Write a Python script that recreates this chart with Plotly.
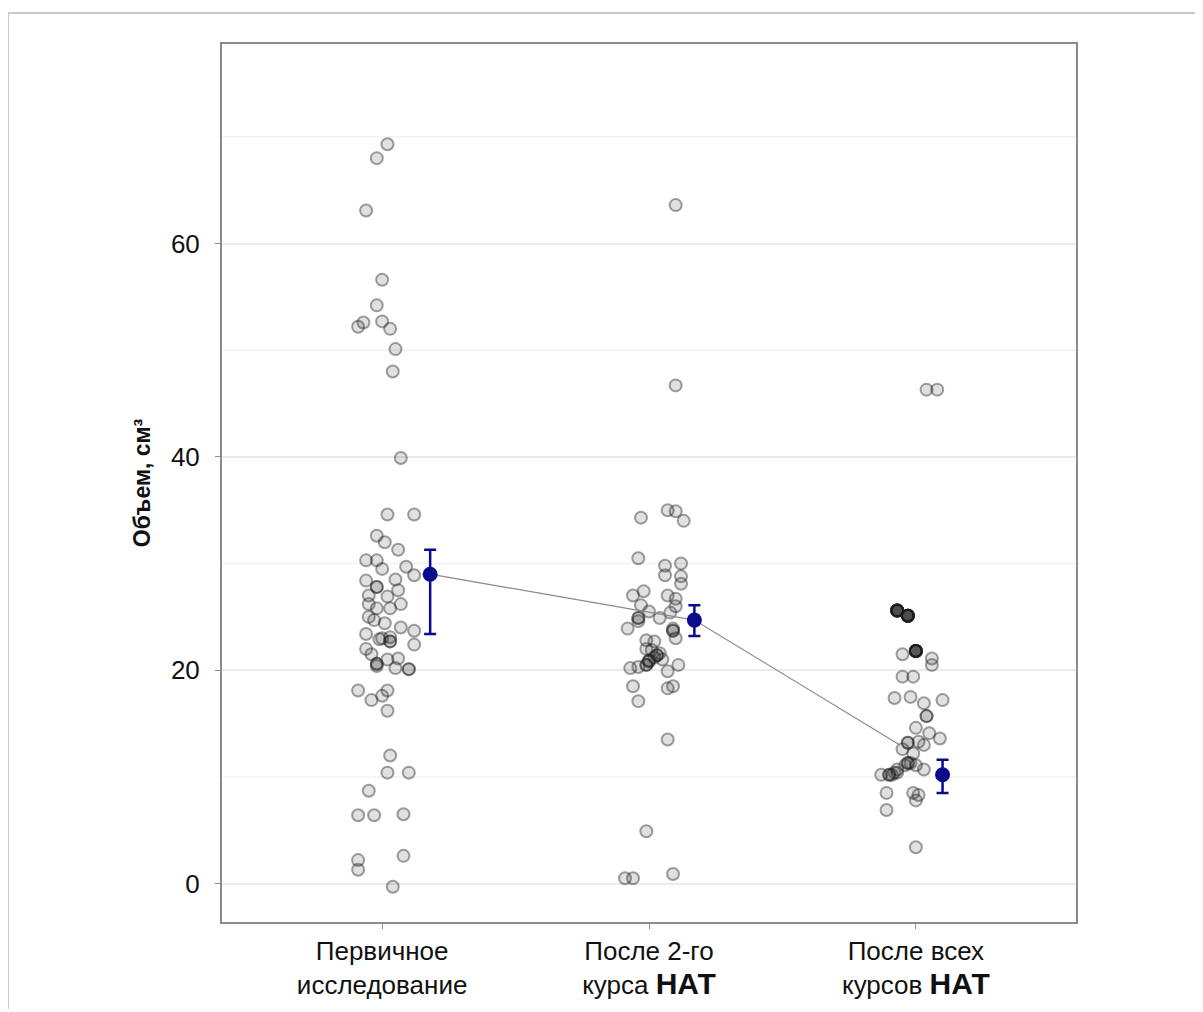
import plotly.graph_objects as go

categories = ["Первичное<br>исследование",
              "После 2-го<br>курса <b><span style='font-size:30px'>НАТ</span></b>",
              "После всех<br>курсов <b><span style='font-size:30px'>НАТ</span></b>"]

# Group 1: primary examination
g1_values = [69.3, 68.0, 63.1, 56.6, 54.2, 52.2, 52.6, 52.7, 52.0, 50.1, 48.0, 39.9, 34.6, 34.6,
             32.6, 32.0, 31.3, 30.3, 30.3, 29.7, 28.9, 28.4, 27.8, 27.5, 27.0, 26.9, 26.2, 25.8,
             25.8, 24.7, 24.4, 23.7, 23.4, 23.1, 22.7, 22.0, 22.4, 20.6, 21.1, 20.2, 20.1, 18.1,
             18.1, 17.2, 17.6, 16.2, 12.0, 10.4, 10.4, 8.7, 6.4, 6.4, 6.5, 2.6, 2.2, 1.3, -0.3,
             22.9, 23.0, 21.5, 24.0, 25.0, 28.5, 29.5, 26.2, 21.0, 20.4, 22.7, 20.6, 20.1, 27.8]
g1_jitter = [0.02, -0.02, -0.06, 0.00, -0.02, -0.09, -0.07, 0.00, 0.03, 0.05, 0.04, 0.07, 0.02, 0.12,
             -0.02, 0.01, 0.06, -0.06, -0.02, 0.09, 0.12, -0.06, -0.02, 0.06, -0.05, 0.02, 0.07, -0.02,
             0.03, -0.03, 0.01, 0.12, -0.06, 0.03, 0.03, -0.06, 0.12, -0.02, 0.06, 0.05, 0.10, -0.09,
             0.02, -0.04, 0.00, 0.02, 0.03, 0.02, 0.10, -0.05, -0.09, -0.03, 0.08, 0.08, -0.09, -0.09, 0.04,
             -0.01, 0.00, -0.04, 0.07, -0.05, 0.05, 0.00, -0.05, 0.02, -0.02, 0.03, -0.02, 0.10, -0.02]

# Group 2: after 2nd course
g2_values = [63.6, 46.7, 34.3, 35.0, 34.9, 34.0, 30.5, 29.8, 30.0, 28.9, 28.8, 28.1, 27.0, 27.4,
             27.0, 26.7, 26.1, 26.0, 24.9, 25.5, 24.9, 25.4, 23.9, 23.7, 23.0, 22.8, 22.7, 21.9,
             21.4, 20.9, 20.5, 20.2, 20.3, 21.0, 20.5, 19.9, 18.5, 18.3, 18.5, 17.1, 13.5, 4.9,
             0.5, 0.5, 0.9, 24.6, 21.2, 20.8, 21.6, 23.9, 22.0, 20.9, 21.4, 20.5, 24.9, 23.7]
g2_jitter = [0.10, 0.10, -0.03, 0.07, 0.10, 0.13, -0.04, 0.06, 0.12, 0.06, 0.12, 0.12, -0.06, -0.02,
             0.07, 0.10, -0.03, 0.10, -0.04, 0.00, 0.04, 0.08, -0.08, 0.09, 0.10, -0.01, 0.02, 0.01,
             0.03, 0.00, -0.01, -0.07, -0.04, 0.05, 0.11, 0.07, -0.06, 0.07, 0.09, -0.04, 0.07, -0.01,
             -0.09, -0.06, 0.09, -0.04, 0.02, 0.00, 0.04, 0.09, -0.01, 0.00, 0.03, -0.01, -0.04, 0.09]

# Group 3: after all courses
g3_values = [46.3, 46.3, 25.6, 25.1, 21.5, 21.8, 21.1, 20.5, 19.4, 19.4, 17.4, 17.5, 16.9, 17.2,
             15.7, 14.6, 14.1, 13.6, 13.3, 13.2, 12.6, 12.2, 13.0, 11.3, 10.7, 11.1, 11.1, 10.7,
             10.2, 10.2, 10.4, 8.5, 8.5, 8.3, 7.8, 6.9, 3.4,
             25.6, 25.6, 25.6, 25.6, 25.6, 25.6, 25.6, 25.6,
             25.1, 25.1, 25.1, 25.1, 25.1, 25.1, 25.1, 25.1,
             21.8, 21.8, 21.8, 21.8, 21.8, 21.8, 21.8,
             10.2, 10.2, 11.3, 11.3, 13.2, 15.7, 10.4]
g3_jitter = [0.04, 0.08, -0.07, -0.03, -0.05, 0.00, 0.06, 0.06, -0.05, -0.01, -0.08, -0.02, 0.03, 0.10,
             0.04, 0.00, 0.05, 0.09, 0.01, -0.03, -0.05, -0.01, 0.03, -0.03, -0.07, -0.04, 0.00, 0.03,
             -0.13, -0.10, -0.07, -0.11, -0.01, 0.01, 0.00, -0.11, 0.00,
             -0.07, -0.07, -0.07, -0.07, -0.07, -0.07, -0.07, -0.07,
             -0.03, -0.03, -0.03, -0.03, -0.03, -0.03, -0.03, -0.03,
             0.00, 0.00, 0.00, 0.00, 0.00, 0.00, 0.00,
             -0.10, -0.09, -0.03, -0.02, -0.03, 0.04, -0.08]

# Means with CI
mean_values = [29.0, 24.7, 10.2]
ci_upper = [31.3, 26.1, 11.6]
ci_lower = [23.4, 23.2, 8.5]
mean_offset = [0.18, 0.17, 0.10]

# Connecting line
trend_x = [1.18, 2.17, 2.94]
trend_y = [29.0, 24.7, 13.0]

y_ticks = [0, 20, 40, 60]

fig = go.Figure()

groups = [(1, g1_values, g1_jitter), (2, g2_values, g2_jitter), (3, g3_values, g3_jitter)]
for pos, vals, jit in groups:
    fig.add_trace(go.Scatter(
        x=[pos + j for j in jit], y=vals, mode="markers",
        marker=dict(size=12, color="rgba(0,0,0,0.12)",
                    line=dict(color="rgba(30,30,30,0.42)", width=2)),
        showlegend=False, hoverinfo="y"))

fig.add_trace(go.Scatter(x=trend_x, y=trend_y, mode="lines",
                         line=dict(color="#8a8a8a", width=1.2),
                         showlegend=False, hoverinfo="skip"))

mx = [i + 1 + o for i, o in enumerate(mean_offset)]
fig.add_trace(go.Scatter(
    x=mx, y=mean_values, mode="markers",
    marker=dict(size=15, color="#0a0a8c"),
    error_y=dict(type="data", symmetric=False,
                 array=[u - m for u, m in zip(ci_upper, mean_values)],
                 arrayminus=[m - l for m, l in zip(mean_values, ci_lower)],
                 color="#0a0a8c", thickness=2.5, width=6),
    showlegend=False))

# target page coordinates (page has an 8px body margin)
OFF = 8
L, R, T, B = 222 - OFF, 1076 - OFF, 44 - OFF, 925 - OFF
W, H = 1195, 1004
pw, ph = R - L, B - T

def px(x):
    return (x - OFF - L) / pw

def py(y):
    return (B - (y - OFF)) / ph

shapes = [
    dict(type="line", xref="paper", yref="paper", x0=px(8), x1=px(1203), y0=py(13), y1=py(13),
         line=dict(color="#c8c8c8", width=2)),
    dict(type="line", xref="paper", yref="paper", x0=px(8), x1=px(8), y0=py(13), y1=py(1012),
         line=dict(color="#c8c8c8", width=2)),
]
for v in [10, 30, 50, 70]:
    shapes.append(dict(type="line", xref="paper", yref="y", x0=0, x1=1, y0=v, y1=v,
                       line=dict(color="#f2f2f2", width=1.5), layer="below"))

fig.update_layout(
    width=W, height=H,
    margin=dict(l=L, r=W - R, t=T, b=H - B),
    paper_bgcolor="white", plot_bgcolor="white",
    font=dict(family="Liberation Sans, Arial, sans-serif", color="#111"),
    shapes=shapes,
    xaxis=dict(range=[0.4, 3.6], tickvals=[1, 2, 3], ticktext=categories,
               tickfont=dict(size=26, color="#111"), showgrid=False, zeroline=False,
               showline=True, linecolor="#8c8c8c", linewidth=2, mirror=True,
               ticks="outside", ticklen=5, tickcolor="#8c8c8c"),
    yaxis=dict(range=[-3.6, 78.7], tickvals=y_ticks, tickfont=dict(size=26, color="#111"),
               showgrid=True, gridcolor="#ebebeb", gridwidth=1.5, zeroline=False,
               showline=True, linecolor="#8c8c8c", linewidth=2, mirror=True,
               ticks="outside", ticklen=5, tickcolor="#8c8c8c", ticklabelstandoff=10,
               title=dict(text="<b>Объем, см³</b>", font=dict(size=23, color="#111"), standoff=14)),
)

fig.write_html("out.html")
